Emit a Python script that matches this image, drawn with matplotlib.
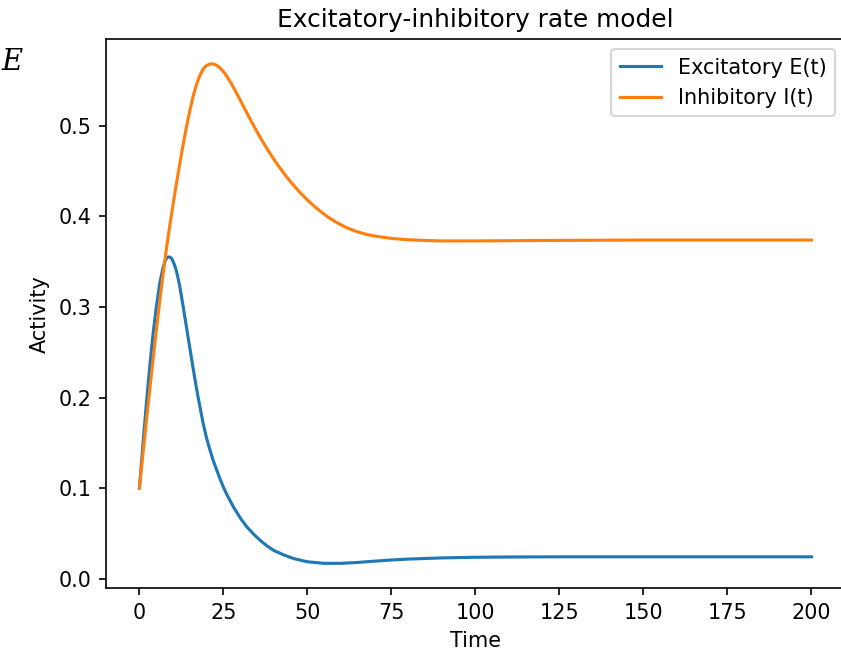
import matplotlib
matplotlib.use("Agg")
import matplotlib.pyplot as plt

# Time points and values
t_exc = [0, 1, 2, 3, 4, 5, 6, 7, 7.5, 8, 8.5, 9, 9.5, 10, 10.5, 11, 11.5, 12,
         13, 14, 15, 16, 17, 18, 19, 20, 21, 22, 23, 24, 25, 26, 27, 28, 29, 30,
         32, 34, 36, 38, 40, 43, 46, 50, 55, 60, 65, 70, 75, 80, 90, 100, 110,
         125, 150, 175, 200]
exc = [0.100, 0.146, 0.190, 0.231, 0.268, 0.299, 0.325, 0.343, 0.349, 0.3535,
       0.3552, 0.3552, 0.354, 0.3505, 0.346, 0.340, 0.332, 0.323,
       0.301, 0.278, 0.255, 0.232, 0.210, 0.190, 0.171, 0.155, 0.142, 0.130,
       0.120, 0.110, 0.101, 0.093, 0.086, 0.079, 0.073, 0.067,
       0.057, 0.049, 0.042, 0.036, 0.031, 0.026, 0.022, 0.0185, 0.0168,
       0.0168, 0.0178, 0.0192, 0.0205, 0.0215, 0.0228, 0.0235, 0.0238,
       0.024, 0.024, 0.024, 0.024]

t_inh = [0, 1, 2, 3, 4, 5, 6, 7, 8, 9, 10, 11, 12, 13, 14, 15, 16, 17, 18, 19,
         20, 21, 22, 23, 24, 25, 26, 27, 28, 29, 30, 32, 34, 36, 38, 40, 42, 44,
         46, 48, 50, 52, 54, 56, 58, 60, 62, 65, 68, 71, 75, 80, 85, 90, 100,
         120, 150, 200]
inh = [0.100, 0.136, 0.171, 0.206, 0.240, 0.273, 0.305, 0.335, 0.363, 0.389,
       0.413, 0.436, 0.458, 0.479, 0.499, 0.517, 0.533, 0.546, 0.556, 0.563,
       0.5668, 0.5685, 0.5685, 0.567, 0.564, 0.560, 0.555, 0.549, 0.5425,
       0.5357, 0.5287, 0.5143, 0.5003, 0.4871, 0.4747, 0.4633, 0.4527,
       0.4429, 0.4339, 0.4257, 0.4183, 0.4115, 0.4053, 0.3997, 0.3949,
       0.3907, 0.3871, 0.3829, 0.3799, 0.3778, 0.3758, 0.3743, 0.3735,
       0.373, 0.373, 0.3735, 0.374, 0.374]

labels = ["Excitatory E(t)", "Inhibitory I(t)"]

DPI = 149
fig = plt.figure(figsize=(841 / DPI, 650 / DPI), dpi=DPI)
ax = fig.add_axes([105.8 / 841, 61.7 / 650, (845 - 105.8) / 841, (588.3 - 39) / 650])

ax.plot(t_exc, exc, label=labels[0], color="#1f77b4", lw=1.5)
ax.plot(t_inh, inh, label=labels[1], color="#ff7f0e", lw=1.5)

ax.set_xticks([0, 25, 50, 75, 100, 125, 150, 175, 200])
ax.set_yticks([0.0, 0.1, 0.2, 0.3, 0.4, 0.5])
ax.set_xlabel("Time")
ax.set_ylabel("Activity")
ax.set_title("Excitatory-inhibitory rate model")
ax.legend(loc="upper right")

# stray glyph at the left edge of the screenshot
fig.text(1 / 841, 1 - 70 / 650, "E", family="DejaVu Serif", style="italic",
         fontsize=14, ha="left", va="baseline")

fig.savefig("out.png", dpi=DPI)
